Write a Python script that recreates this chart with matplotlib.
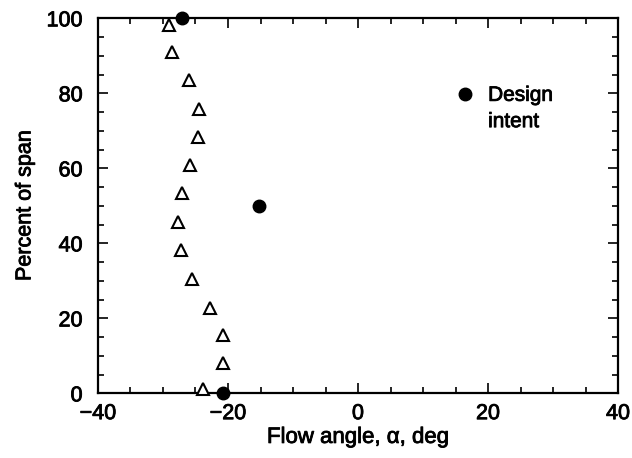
import matplotlib
matplotlib.use('Agg')
import matplotlib.pyplot as plt
import matplotlib.patheffects as pe
from matplotlib.lines import Line2D
from matplotlib.ticker import MultipleLocator

# measured flow angle vs span (open triangles)
meas_angle = [-29.0, -28.6, -26.0, -24.4, -24.6, -25.8, -27.0, -27.7,
              -27.3, -25.5, -22.8, -20.8, -20.7, -23.8]
meas_span = [98.2, 91.1, 83.5, 75.8, 68.3, 60.9, 53.3, 45.8,
             38.2, 30.5, 22.9, 15.7, 8.2, 1.1]

# design intent (filled circles)
design_angle = [-27.1, -15.2, -20.8]
design_span = [100.0, 50.0, 0.0]

x_ticks = [-40, -20, 0, 20, 40]
y_ticks = [0, 20, 40, 60, 80, 100]

plt.rcParams['font.family'] = ['Liberation Sans', 'DejaVu Sans']
# scanned Helvetica looks a bit heavier than regular
heavy = [pe.withStroke(linewidth=0.6, foreground='black')]

fig = plt.figure(figsize=(6.32, 4.58), dpi=100)
ax = fig.add_axes([0.155, 0.141, 0.823, 0.819])

ax.plot(meas_angle, meas_span, ls='none', marker='^', ms=8,
        mfc='white', mec='black', mew=1.5, clip_on=False, zorder=3)
ax.plot(design_angle, design_span, ls='none', marker='o', ms=9,
        color='black', clip_on=False, zorder=4)

ax.set_xlim(-40, 40)
ax.set_ylim(0, 100)
ax.set_xticks(x_ticks)
ax.set_yticks(y_ticks)
ax.xaxis.set_minor_locator(MultipleLocator(5))
ax.yaxis.set_minor_locator(MultipleLocator(5))

ax.tick_params(which='both', direction='in', top=True, right=True,
               width=1.2, labelsize=15.5)
ax.tick_params(which='major', length=7)
ax.tick_params(which='minor', length=4)
ax.tick_params(axis='y', pad=11)
ax.tick_params(axis='x', pad=7)
for s in ax.spines.values():
    s.set_linewidth(1.6)

xl = ax.set_xlabel('Flow angle, \u03b1, deg', fontsize=16, labelpad=2)
yl = ax.set_ylabel('Percent of span', fontsize=15.5, labelpad=8)

# legend: marker beside first line of "Design intent"
handles = [Line2D([], [], ls='none', marker='o', ms=9, color='black'),
           Line2D([], [], ls='none')]
leg = ax.legend(handles, ['Design', 'intent'], loc='upper left',
                bbox_to_anchor=(0.686, 0.82), frameon=False, fontsize=15,
                handlelength=1.0, handletextpad=0.6, labelspacing=0.35,
                borderpad=0, borderaxespad=0)

for t in [xl, yl] + leg.get_texts() + ax.get_xticklabels() + ax.get_yticklabels():
    t.set_path_effects(heavy)

fig.savefig('out.png', dpi=100)
